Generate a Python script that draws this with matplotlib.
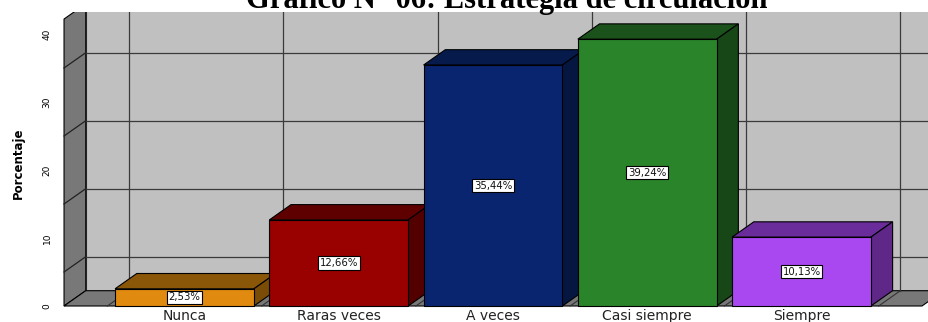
import matplotlib.pyplot as plt
from matplotlib.patches import Polygon
import numpy as np

categories = ["Nunca", "Raras veces", "A veces", "Casi siempre", "Siempre"]
values = [2.53, 12.66, 35.44, 39.24, 10.13]
front_colors = ["#E08A10", "#990000", "#0A2570", "#2A852A", "#A947F0"]
top_colors = ["#8A5608", "#5E0000", "#061A4C", "#1B521B", "#6A2C9A"]
side_colors = ["#7A4C06", "#520000", "#051640", "#174617", "#5E2788"]
y_ticks = [0, 10, 20, 30, 40]
grid_levels = [5, 15, 25, 35]

W, H = 929, 322
fig = plt.figure(figsize=(W / 100, H / 100), dpi=100)

# axes placed in pixels: x from 60 to 929, y from 12 (top) to 310 (bottom)
ax = fig.add_axes([60 / W, (H - 310) / H, (W - 60) / W, (310 - 12) / H])
px_per_cat = 154.25
px_per_unit = 6.8
ax.set_xlim((60 - 184.5) / px_per_cat, (929 - 184.5) / px_per_cat)
ax.set_ylim(-4 / px_per_unit, (306 - 12) / px_per_unit)
ax.axis("off")

n = len(categories)
dx, dy = 21.7 / px_per_cat, 15.3 / px_per_unit   # depth offset
x0, x1 = -0.5 - 0.281, n - 0.5 + 0.281             # floor extent
wall_top = 42.2
bw = 0.9
edge = dict(edgecolor="black", linewidth=0.8)


def poly(pts, color, z, **kw):
    ax.add_patch(Polygon(pts, closed=True, facecolor=color, zorder=z, **kw))


# walls and floor
poly([(x0 + dx, dy), (x1 + dx, dy), (x1 + dx, wall_top + dy), (x0 + dx, wall_top + dy)],
     "#C0C0C0", 1, edgecolor="#333333", linewidth=0.8)
poly([(x0, 0), (x0 + dx, dy), (x0 + dx, wall_top + dy), (x0, wall_top)],
     "#787878", 1, **edge)
poly([(x0, 0), (x1, 0), (x1 + dx, dy), (x0 + dx, dy)], "#787878", 1, **edge)

# grid on back wall and left wall
for g in grid_levels:
    ax.plot([x0 + dx, x1 + dx], [g + dy, g + dy], color="#3A3A3A", lw=0.9, zorder=2)
    ax.plot([x0, x0 + dx], [g, g + dy], color="#222222", lw=0.9, zorder=2)
for b in np.arange(-0.5, n, 1.0):
    ax.plot([b + dx, b + dx], [dy, wall_top + dy], color="#3A3A3A", lw=0.9, zorder=2)
    ax.plot([b, b + dx], [0, dy], color="#333333", lw=0.8, zorder=2)

# 3D bars, drawn left to right so each front hides the previous side
for i, v in enumerate(values):
    l, r = i - bw / 2, i + bw / 2
    z = 3 + i
    poly([(l, v), (r, v), (r + dx, v + dy), (l + dx, v + dy)], top_colors[i], z, **edge)
    poly([(r, 0), (r + dx, dy), (r + dx, v + dy), (r, v)], side_colors[i], z, **edge)
    poly([(l, 0), (r, 0), (r, v), (l, v)], front_colors[i], z, **edge)
    ax.text(i, v / 2, f"{v:.2f}%".replace(".", ","), ha="center", va="center",
            fontsize=7.3, family="DejaVu Sans", color="#111111", zorder=20,
            bbox=dict(boxstyle="square,pad=0.18", facecolor="white",
                      edgecolor="black", linewidth=0.8))

# category labels
for i, c in enumerate(categories):
    ax.text(i, -10 / px_per_unit, c, ha="center", va="center", fontsize=10,
            family="DejaVu Sans", color="#222222", clip_on=False)

# value axis labels
for t in y_ticks:
    ax.text(x0 - 17 / px_per_cat, t, str(t), ha="center", va="center", rotation=90,
            fontsize=6.5, family=["Liberation Sans Narrow", "DejaVu Sans"], clip_on=False)
fig.text(18 / W, (H - 163) / H, "Porcentaje", rotation=90, ha="center", va="center",
         fontsize=8.5, fontweight="bold", family=["Liberation Sans Narrow", "DejaVu Sans"])

fig.text(507 / W, (H - 8) / H, "Gráfico N° 06: Estrategia de circulación",
         ha="center", va="baseline", fontsize=22, fontweight="bold",
         family=["Liberation Serif", "DejaVu Serif"])

fig.savefig("out.png", dpi=100)
